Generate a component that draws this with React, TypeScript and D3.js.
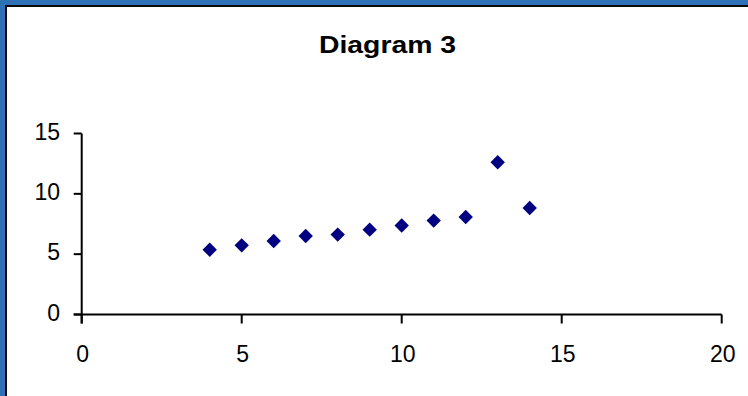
import React from "react";
import * as d3 from "d3";

const xValues = [4, 5, 6, 7, 8, 9, 10, 11, 12, 13, 14];
const yValues = [5.37, 5.73, 6.09, 6.5, 6.62, 7.03, 7.37, 7.78, 8.08, 12.62, 8.83];
const xTicks = [0, 5, 10, 15, 20];
const yTicks = [0, 5, 10, 15];
const title = "Diagram 3";

const W = 748;
const H = 396;
const FONT = "'Liberation Sans', Arial, sans-serif";

export default function App() {
  const x = d3.scaleLinear().domain([0, 20]).range([81.7, 721.7]);
  const y = d3.scaleLinear().domain([0, 15]).range([314.5, 133.5]);
  const s = 7.2;
  const diamondPath = `M0,${-s}L${s},0L0,${s}L${-s},0Z`;

  return (
    <svg
      width={W}
      height={H}
      style={{ position: "absolute", left: 0, top: 0, background: "#fff" }}
    >
      <rect x={0} y={0} width={W} height={H} fill="#fff" />
      {/* frame */}
      <rect x={0} y={0} width={W} height={5} fill="#2F71B6" />
      <rect x={0} y={0} width={5} height={H} fill="#2F71B6" />
      <rect x={5} y={5} width={W - 5} height={2} fill="#0a0a0a" />
      <rect x={5} y={5} width={2} height={H - 5} fill="#0a0a0a" />

      <text
        x={387.5}
        y={52.5}
        textAnchor="middle"
        fontFamily={FONT}
        fontWeight="bold"
        fontSize={24}
        textLength={137}
        lengthAdjust="spacingAndGlyphs"
        fill="#000"
      >
        {title}
      </text>

      {/* y axis */}
      <line x1={x(0)} x2={x(0)} y1={y(15)} y2={y(0) + 9} stroke="#000" strokeWidth={2} />
      {yTicks.map((t) => (
        <g key={"y" + t}>
          <line x1={x(0) - 8} x2={x(0)} y1={y(t)} y2={y(t)} stroke="#000" strokeWidth={2} />
          <text
            x={60}
            y={y(t) + 6}
            textAnchor="end"
            fontFamily={FONT}
            fontSize={23}
            fill="#000"
          >
            {t}
          </text>
        </g>
      ))}

      {/* x axis */}
      <line x1={x(0) - 8} x2={x(20)} y1={y(0)} y2={y(0)} stroke="#000" strokeWidth={2} />
      {xTicks.map((t) => (
        <g key={"x" + t}>
          <line x1={x(t)} x2={x(t)} y1={y(0)} y2={y(0) + 9} stroke="#000" strokeWidth={2} />
          <text
            x={x(t) + 1}
            y={362}
            textAnchor="middle"
            fontFamily={FONT}
            fontSize={23}
            fill="#000"
          >
            {t}
          </text>
        </g>
      ))}

      {xValues.map((xv, i) => (
        <path
          key={"p" + i}
          d={diamondPath}
          transform={`translate(${x(xv)},${y(yValues[i])})`}
          fill="#000080"
        />
      ))}
    </svg>
  );
}
